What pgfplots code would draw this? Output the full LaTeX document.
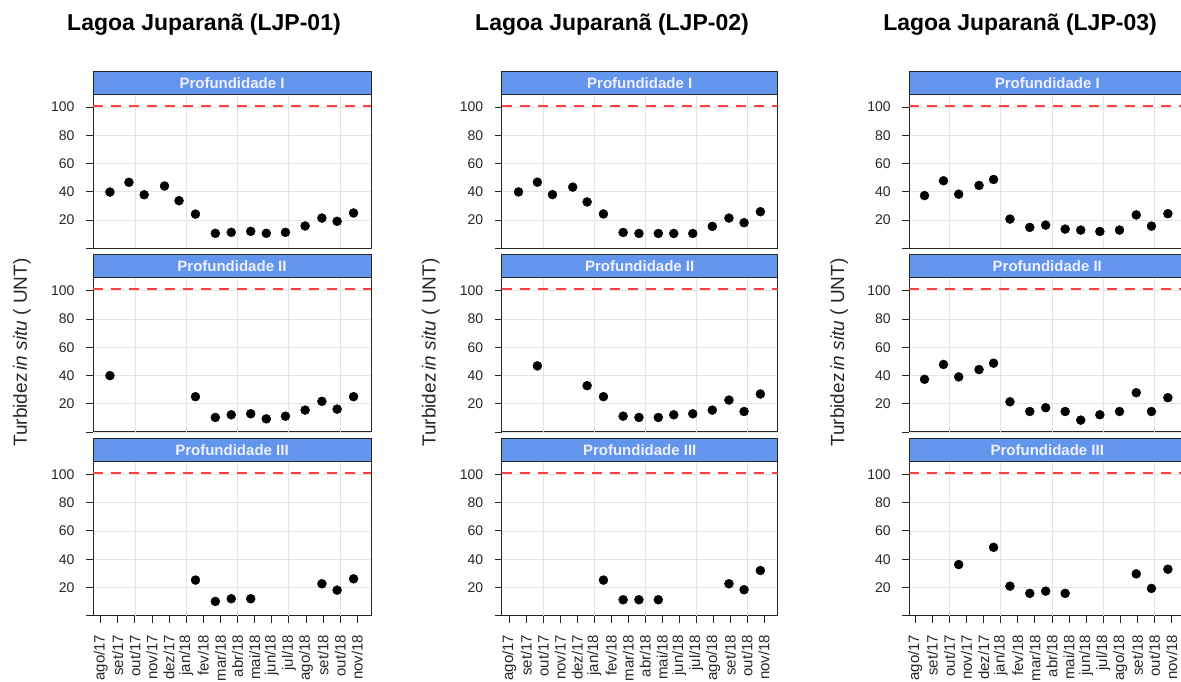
\documentclass[border=0pt]{standalone}
\usepackage{fontspec}
\setmainfont{Liberation Sans}
\usepackage{pgfplots}
\pgfplotsset{compat=1.18}
\usetikzlibrary{calc}

\definecolor{stripblue}{RGB}{100,149,237}
\definecolor{striptext}{RGB}{238,240,255}
\definecolor{gridgray}{RGB}{228,228,228}
\definecolor{refred}{RGB}{255,64,64}

\newcommand\tickfont{\fontsize{14}{16}\selectfont}
\newcommand\xtfont{\fontsize{15}{17}\selectfont}

% strip label above a panel
\newcommand\strip[2]{%
  \draw[fill=stripblue, draw=black!85, line width=1pt]
    (#1.north west) rectangle ($(#1.north east)+(0pt,23pt)$);
  \node[font=\fontsize{15}{17}\selectfont\bfseries, text=striptext]
    at ($(#1.north)+(0pt,11.5pt)$) {#2};}

\pgfplotsset{
  panel/.style={
    scale only axis, height=154pt,
    xmin=-0.45, xmax=15.8, ymin=0, ymax=109,
    ytick={0,20,40,60,80,100}, yticklabels={,20,40,60,80,100},
    xtick=\empty,
    ymajorgrids,
    grid style={gridgray, line width=0.8pt},
    tick align=outside, major tick length=7pt, tick pos=left,
    axis line style={black!85, line width=1pt},
    tick style={black!85, line width=0.9pt},
    yticklabel style={font=\tickfont, text=black!85},
    yticklabel shift=8pt,
    extra x ticks={2,5,8,11,14}, extra x tick labels={,,,,},
    extra x tick style={grid=major, major tick length=0pt},
    /pgf/number format/assume math mode=true,
  },
  bottomrow/.style={
    xtick={0,...,15},
    xticklabels={ago/17,set/17,out/17,nov/17,dez/17,jan/18,fev/18,mar/18,
      abr/18,mai/18,jun/18,jul/18,ago/18,set/18,out/18,nov/18},
    xticklabel style={font=\xtfont, text=black!85, rotate=90, anchor=east},
    xticklabel shift=8.5pt,
  },
  pts/.style={only marks, mark=*, mark size=4.5pt, color=black},
  limit/.style={color=refred, line width=2pt, dash pattern=on 10pt off 8pt},
}

\begin{document}
\begin{tikzpicture}

% ---------------- LJP-01 ----------------
\begin{axis}[panel, name=a11, width=278pt, at={(93pt,432.7pt)}, anchor=south west]
\addplot[limit] coordinates {(-0.45,101) (17,101)};
\addplot[pts] coordinates {
  (0.54,39.8) (1.65,46.7) (2.54,37.9) (3.73,44.1) (4.58,33.7) (5.54,24.2)
  (6.70,10.6) (7.63,11.3) (8.77,12.0) (9.68,10.6) (10.80,11.3) (11.95,15.8)
  (12.93,21.4) (13.82,19.1) (14.78,25.0)};
\end{axis}
\strip{a11}{Profundidade I}

\begin{axis}[panel, name=a12, width=278pt, at={(93pt,249pt)}, anchor=south west]
\addplot[limit] coordinates {(-0.45,101) (17,101)};
\addplot[pts] coordinates {
  (0.54,39.9) (5.54,25.0) (6.70,10.3) (7.63,12.2) (8.77,12.9) (9.68,9.3)
  (10.80,11.2) (11.95,15.5) (12.93,21.7) (13.82,16.2) (14.78,25.0)};
\end{axis}
\strip{a12}{Profundidade II}

\begin{axis}[panel, bottomrow, name=a13, width=278pt, at={(93pt,65.3pt)}, anchor=south west]
\addplot[limit] coordinates {(-0.45,101) (17,101)};
\addplot[pts] coordinates {
  (5.54,25.2) (6.70,10.1) (7.63,12.0) (8.77,12.0) (12.93,22.6) (13.82,18.1)
  (14.78,26.1)};
\end{axis}
\strip{a13}{Profundidade III}

% ---------------- LJP-02 ----------------
\begin{axis}[panel, name=a21, width=276pt, at={(501.7pt,432.7pt)}, anchor=south west]
\addplot[limit] coordinates {(-0.45,101) (17,101)};
\addplot[pts] coordinates {
  (0.54,39.9) (1.65,46.8) (2.54,38.0) (3.73,43.3) (4.58,32.8) (5.54,24.3)
  (6.70,11.2) (7.63,10.5) (8.77,10.5) (9.68,10.5) (10.80,10.5) (11.95,15.5)
  (12.93,21.4) (13.82,18.1) (14.78,25.9)};
\end{axis}
\strip{a21}{Profundidade I}

\begin{axis}[panel, name=a22, width=276pt, at={(501.7pt,249pt)}, anchor=south west]
\addplot[limit] coordinates {(-0.45,101) (17,101)};
\addplot[pts] coordinates {
  (1.65,46.8) (4.58,32.8) (5.54,25.0) (6.70,11.2) (7.63,10.3) (8.77,10.3)
  (9.68,12.2) (10.80,12.9) (11.95,15.5) (12.93,22.6) (13.82,14.5) (14.78,26.9)};
\end{axis}
\strip{a22}{Profundidade II}

\begin{axis}[panel, bottomrow, name=a23, width=276pt, at={(501.7pt,65.3pt)}, anchor=south west]
\addplot[limit] coordinates {(-0.45,101) (17,101)};
\addplot[pts] coordinates {
  (5.54,25.2) (6.70,11.3) (7.63,11.3) (8.77,11.3) (12.93,22.6) (13.82,18.4)
  (14.78,32.0)};
\end{axis}
\strip{a23}{Profundidade III}

% ---------------- LJP-03 ----------------
\begin{axis}[panel, xmin=-0.35, name=a31, width=276pt, at={(909.3pt,432.7pt)}, anchor=south west]
\addplot[limit] coordinates {(-0.35,101) (17,101)};
\addplot[pts] coordinates {
  (0.54,37.3) (1.65,47.8) (2.54,38.3) (3.73,44.5) (4.58,48.7) (5.54,20.7)
  (6.70,14.8) (7.63,16.4) (8.77,13.6) (9.68,12.9) (10.80,11.9) (11.95,12.9)
  (12.93,23.6) (13.82,15.7) (14.78,24.5)};
\end{axis}
\strip{a31}{Profundidade I}

\begin{axis}[panel, xmin=-0.35, name=a32, width=276pt, at={(909.3pt,249pt)}, anchor=south west]
\addplot[limit] coordinates {(-0.35,101) (17,101)};
\addplot[pts] coordinates {
  (0.54,37.3) (1.65,47.8) (2.54,39.0) (3.73,44.2) (4.58,48.7) (5.54,21.4)
  (6.70,14.5) (7.63,17.2) (8.77,14.5) (9.68,8.4) (10.80,12.2) (11.95,14.5)
  (12.93,27.8) (13.82,14.5) (14.78,24.3)};
\end{axis}
\strip{a32}{Profundidade II}

\begin{axis}[panel, bottomrow, xmin=-0.35, name=a33, width=276pt, at={(909.3pt,65.3pt)}, anchor=south west]
\addplot[limit] coordinates {(-0.35,101) (17,101)};
\addplot[pts] coordinates {
  (2.54,36.2) (4.58,48.4) (5.54,20.9) (6.70,15.8) (7.63,17.4) (8.77,15.8)
  (12.93,29.6) (13.82,19.3) (14.78,32.9)};
\end{axis}
\strip{a33}{Profundidade III}

% titles and y labels
\foreach \cx/\lx/\nm in {204/22/01, 612/430.7/02, 1020/839.3/03} {
  \node[font=\fontsize{23}{26}\selectfont\bfseries] at (\cx pt,656pt)
    {Lagoa Juparanã (LJP-\nm)};
  \node[rotate=90, font=\fontsize{19}{22}\selectfont, text=black!85]
    at (\lx pt,328.5pt) {Turbidez\,\textit{in situ} ( UNT)};
}

\pgfresetboundingbox
\path (0pt,0pt) rectangle (1181pt,681pt);
\end{tikzpicture}
\end{document}
